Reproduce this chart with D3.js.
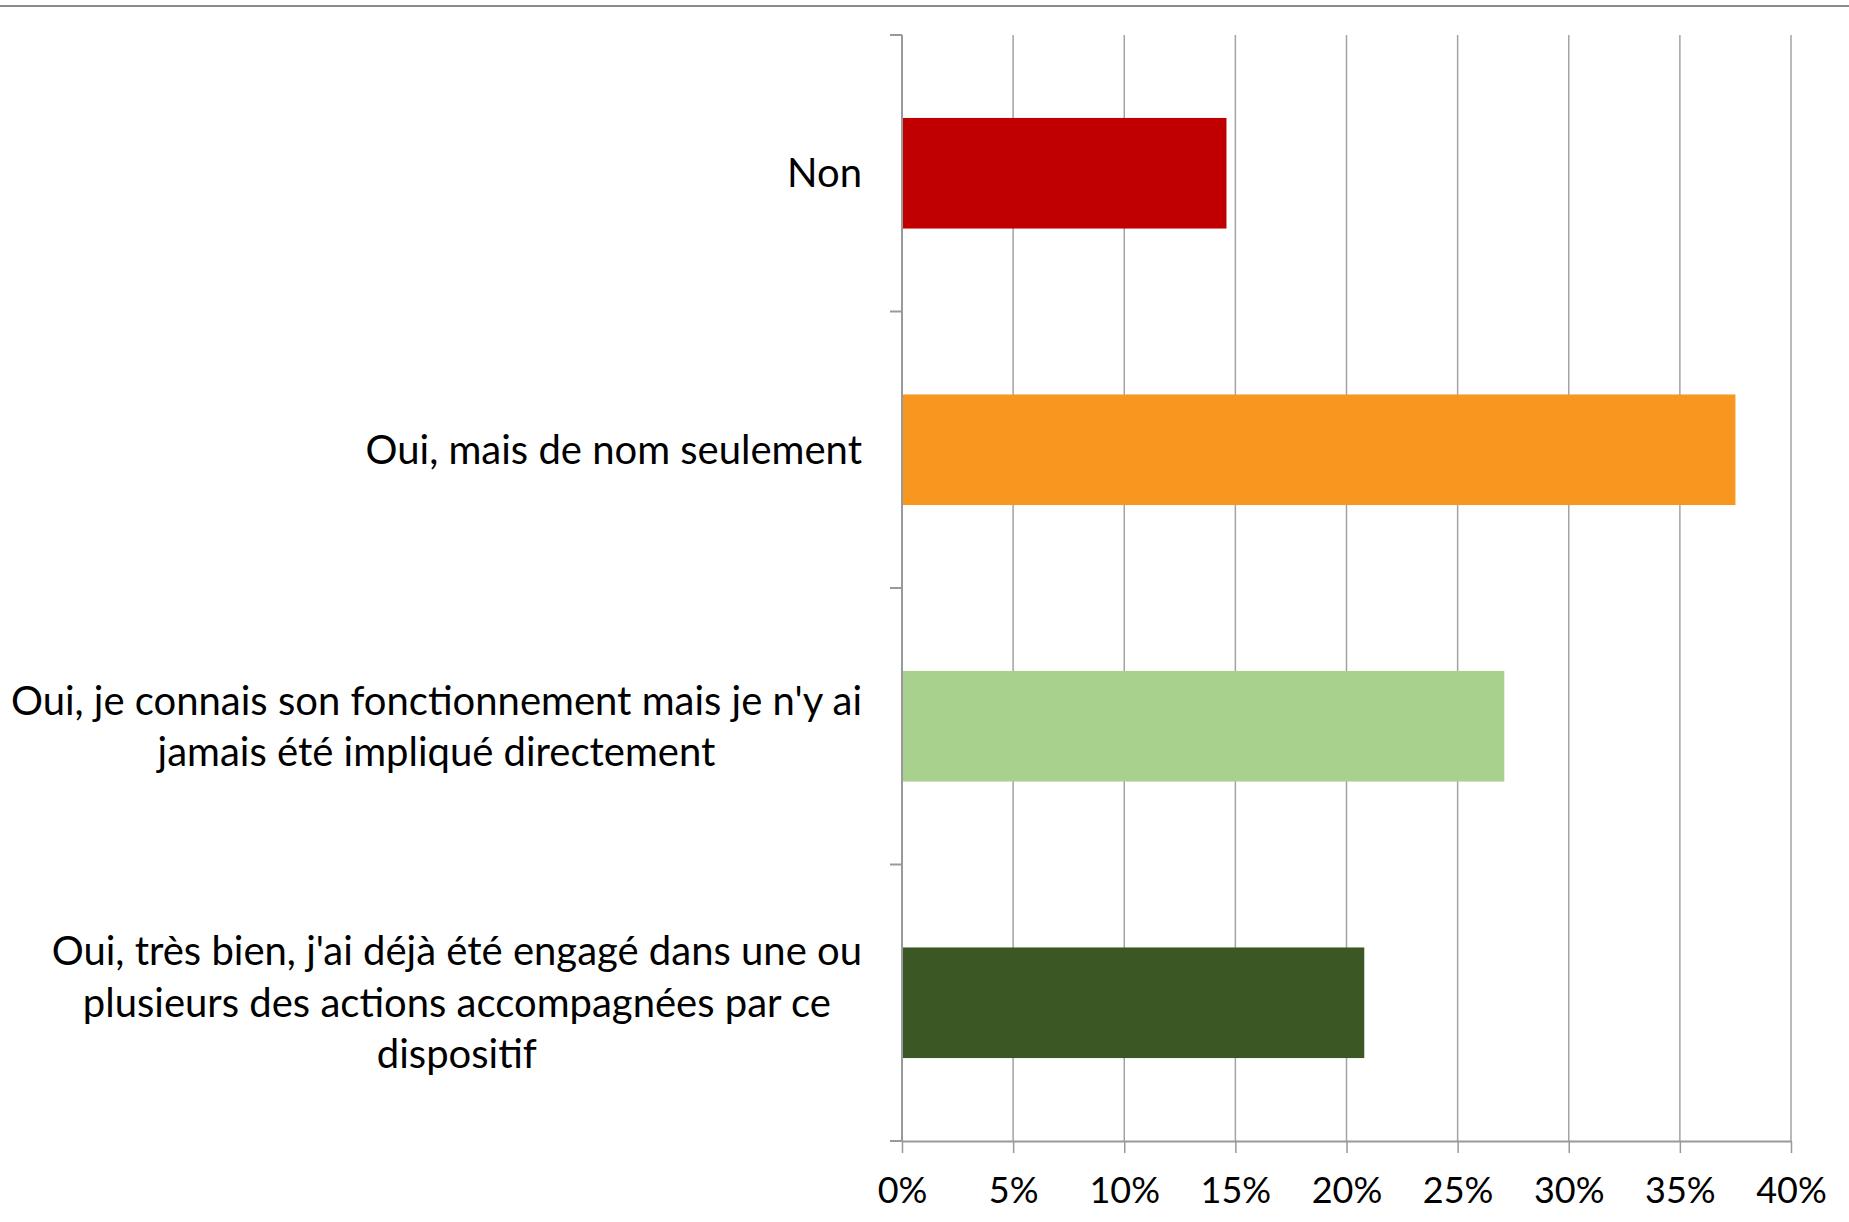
<!DOCTYPE html>
<html>
<head>
<meta charset="utf-8">
<script src="https://cdn.jsdelivr.net/npm/d3@7"></script>
<style>
  html, body { margin: 0; padding: 0; background: #fff; }
  svg text { font-family: Lato, "Open Sans", sans-serif; fill: #000; }
</style>
</head>
<body>
<div id="chart"></div>
<script>
// data, top to bottom as in the picture
var categories = ["Non", "Oui, mais de nom seulement", "Oui, je connais", "Oui, très bien"];
var labelLines = [
  ["Non"],
  ["Oui, mais de nom seulement"],
  ["Oui, je connais son fonctionnement mais je n'y ai", "jamais été impliqué directement"],
  ["Oui, très bien, j'ai déjà été engagé dans une ou", "plusieurs des actions accompagnées par ce", "dispositif"]
];
var values = [0.146, 0.375, 0.271, 0.208];
var barColors = ["#c00000", "#f7971f", "#a9d18e", "#3b5824"];
var tickValues = [0, 0.05, 0.10, 0.15, 0.20, 0.25, 0.30, 0.35, 0.40];

var width = 1849,
    height = 1222,
    margin = {top: 35, right: 58, bottom: 81, left: 902};

var svg = d3.select("#chart").append("svg")
    .attr("width", width)
    .attr("height", height);

// thin rule at the very top
svg.append("line")
    .attr("x1", 0).attr("x2", width)
    .attr("y1", 6).attr("y2", 6)
    .attr("stroke", "#8c8c8c")
    .attr("stroke-width", 2);

var x = d3.scaleLinear()
    .domain([0, 0.4])
    .range([margin.left, width - margin.right]);

var y = d3.scaleBand()
    .domain(categories)
    .range([margin.top, height - margin.bottom])
    .paddingInner(0.6)
    .paddingOuter(0.3);

var step = y.step();

// vertical gridlines
svg.append("g").selectAll("line")
    .data(tickValues.slice(1))
  .enter().append("line")
    .attr("x1", function(d) { return x(d); })
    .attr("x2", function(d) { return x(d); })
    .attr("y1", margin.top)
    .attr("y2", height - margin.bottom)
    .attr("stroke", "#a3a3a3")
    .attr("stroke-width", 1.5);

// bars
svg.append("g").selectAll("rect")
    .data(values)
  .enter().append("rect")
    .attr("x", x(0))
    .attr("y", function(d, i) { return y(categories[i]); })
    .attr("width", function(d) { return x(d) - x(0); })
    .attr("height", y.bandwidth())
    .attr("fill", function(d, i) { return barColors[i]; });

// x axis
var xAxis = svg.append("g")
    .attr("transform", "translate(0," + (height - margin.bottom) + ")")
    .call(d3.axisBottom(x)
      .tickValues(tickValues)
      .tickFormat(d3.format(".0%"))
      .tickSizeInner(12)
      .tickSizeOuter(0)
      .tickPadding(24));
xAxis.select(".domain").attr("stroke", "#999").attr("stroke-width", 2);
xAxis.selectAll(".tick line").attr("stroke", "#999").attr("stroke-width", 1.5);
xAxis.selectAll(".tick text")
    .attr("font-family", "Lato, sans-serif")
    .attr("font-size", 36)
    .attr("fill", "#000");

// y axis line + ticks at band boundaries
var yAxis = svg.append("g");
yAxis.append("line")
    .attr("x1", x(0)).attr("x2", x(0))
    .attr("y1", margin.top).attr("y2", height - margin.bottom)
    .attr("stroke", "#999")
    .attr("stroke-width", 2);
var bounds = categories.map(function(c) { return y(c) - step * 0.3; });
bounds.push(height - margin.bottom);
yAxis.selectAll("line.tk")
    .data(bounds)
  .enter().append("line")
    .attr("class", "tk")
    .attr("x1", x(0) - 12).attr("x2", x(0))
    .attr("y1", function(d) { return d; })
    .attr("y2", function(d) { return d; })
    .attr("stroke", "#999")
    .attr("stroke-width", 2);

// category labels: lines centred on each other, widest line ends at rightEdge
var rightEdge = x(0) - 40,
    lineHeight = 51.5,
    fontSize = 40;

var labels = svg.append("g").selectAll("g")
    .data(categories)
  .enter().append("g");

labels.each(function(c, i) {
  var g = d3.select(this);
  var lines = labelLines[i];
  var cy = y(c) + y.bandwidth() / 2;
  var texts = g.selectAll("text")
      .data(lines)
    .enter().append("text")
      .attr("font-size", fontSize)
      .attr("dominant-baseline", "central")
      .attr("text-anchor", "middle")
      .attr("y", function(d, j) { return cy - 1 + (j - (lines.length - 1) / 2) * lineHeight; })
      .text(function(d) { return d; });
  var w = d3.max(texts.nodes(), function(n) { return n.getComputedTextLength(); });
  texts.attr("x", rightEdge - w / 2);
});
</script>
</body>
</html>
